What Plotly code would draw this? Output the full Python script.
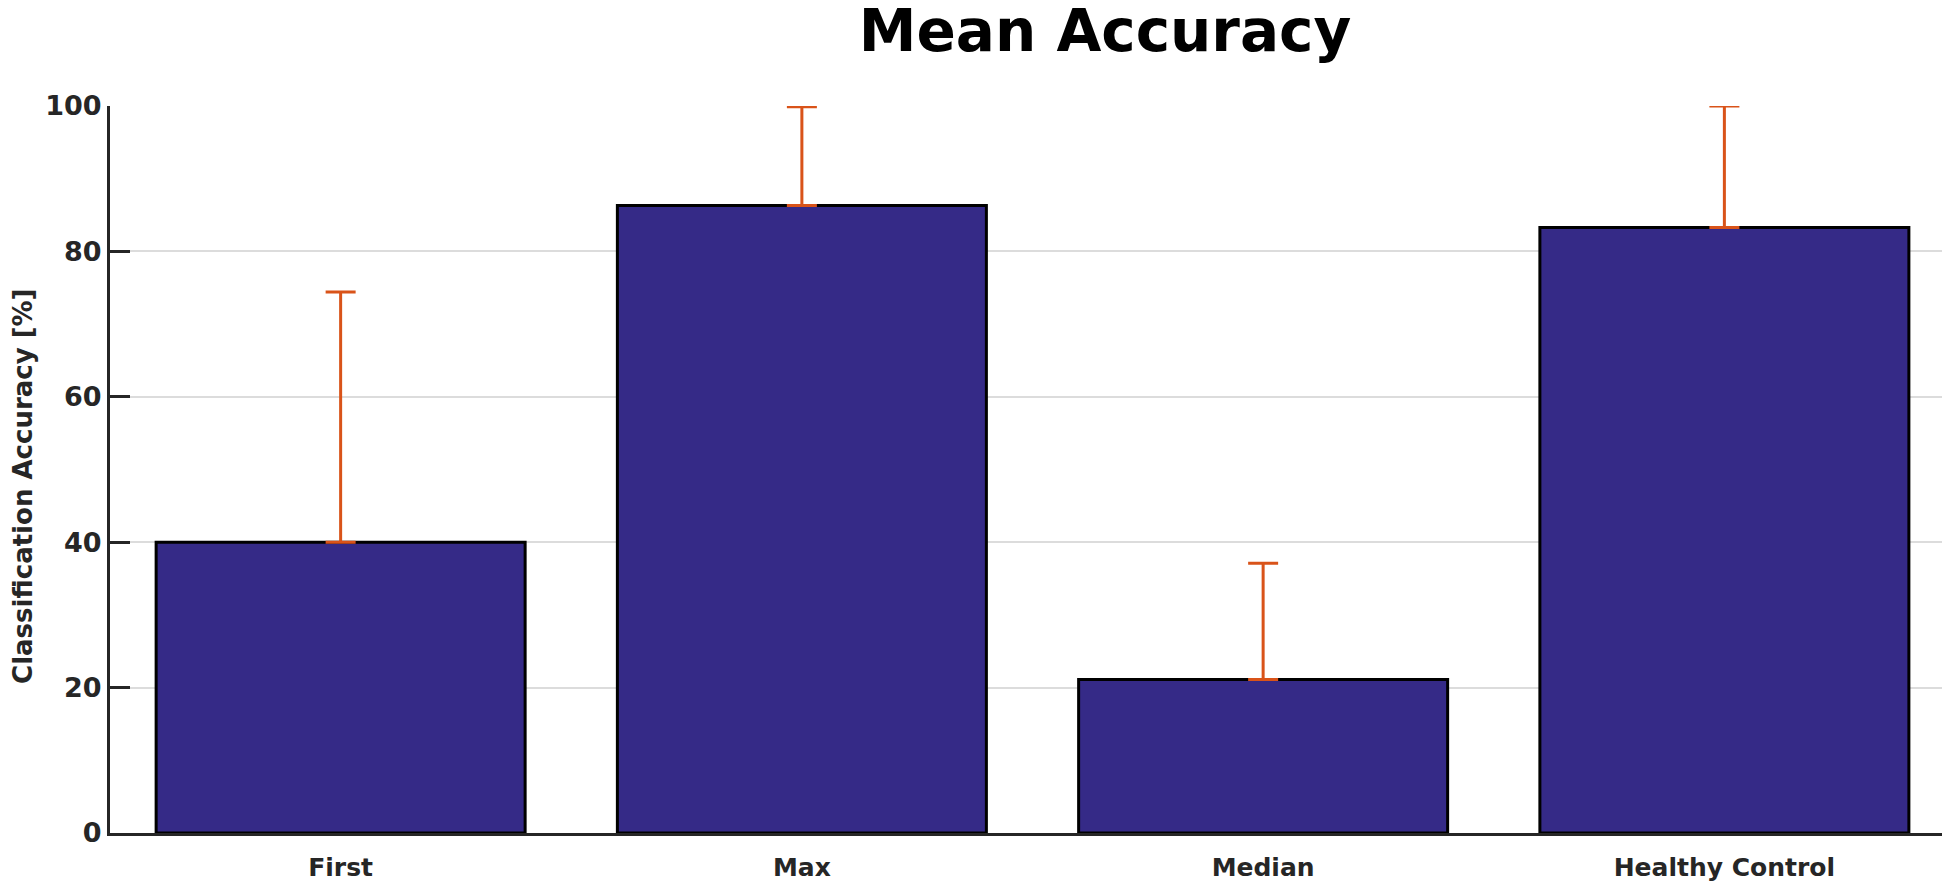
import plotly.graph_objects as go

categories = ["First", "Max", "Median", "Healthy Control"]
mean_accuracy = [40.0, 86.3, 21.1, 83.3]
error_upper = [34.4, 13.6, 16.0, 16.7]
error_lower = [0, 0, 0, 0]
y_ticks = [0, 20, 40, 60, 80, 100]

FONT = "DejaVu Sans"
DARK = "#262626"

fig = go.Figure()
fig.add_trace(go.Bar(
    x=categories,
    y=mean_accuracy,
    marker=dict(color="#352A87", line=dict(color="black", width=3)),
    error_y=dict(
        type="data", symmetric=False,
        array=error_upper, arrayminus=error_lower,
        color="#D95319", thickness=3, width=15,
    ),
    width=0.8,
))

fig.update_layout(
    width=1950, height=887,
    margin=dict(l=102, r=3, t=98, b=62),
    paper_bgcolor="white", plot_bgcolor="white",
    showlegend=False,
    title=dict(
        text="Mean Accuracy",
        x=1097/1950, xanchor="center", xref="container",
        y=0.974, yanchor="middle", yref="container",
        font=dict(family=FONT, size=58, color="black", weight="bold"),
    ),
    font=dict(family=FONT, size=25, color=DARK, weight="bold"),
)

fig.update_xaxes(
    range=[-0.5, 3.5],
    showline=True, linewidth=3, linecolor=DARK,
    ticks="outside", ticklen=10, tickcolor="rgba(0,0,0,0)",
    showgrid=False, zeroline=False,
    tickfont=dict(family=FONT, size=25, color=DARK, weight="bold"),
)
fig.update_yaxes(
    range=[0, 100],
    tickvals=y_ticks,
    showline=True, linewidth=3, linecolor=DARK,
    ticks="inside", ticklen=20, tickwidth=3, tickcolor=DARK,
    showgrid=True, gridcolor="#DCDCDC", gridwidth=2,
    zeroline=False,
    tickfont=dict(family=FONT, size=27, color=DARK, weight="bold"),
)

fig.add_annotation(
    text="Classification Accuracy [%]",
    textangle=-90,
    xref="paper", yref="paper",
    x=(15 - 102) / 1845, y=0.476,
    xanchor="center", yanchor="middle",
    showarrow=False,
    font=dict(family=FONT, size=26, color=DARK, weight="bold"),
)

fig.add_shape(type="line", xref="paper", yref="paper",
              x0=1, x1=1, y0=0, y1=20/727,
              line=dict(color=DARK, width=3))

fig.write_html("out.html")
